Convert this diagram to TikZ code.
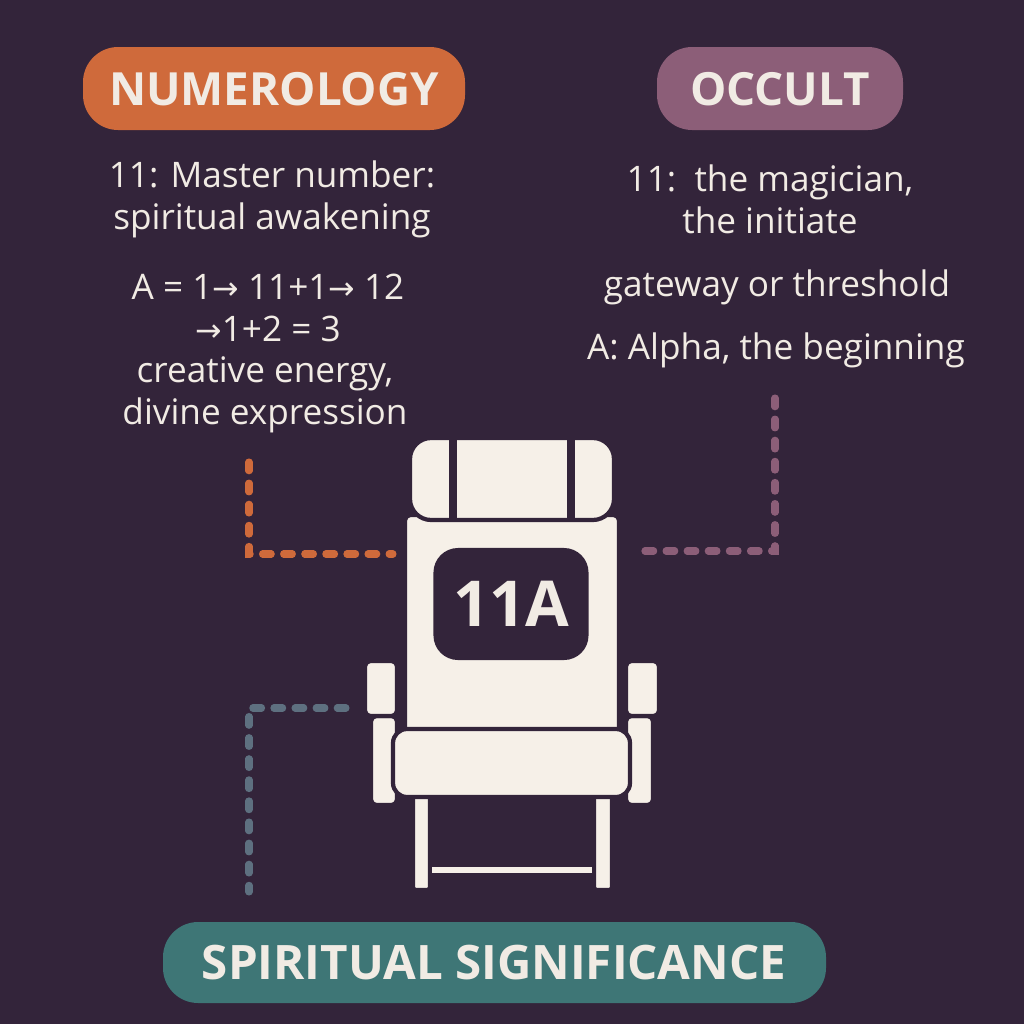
\documentclass[tikz,border=0pt]{standalone}
\usepackage{fontspec}
\setmainfont{Open Sans}
\newfontfamily\symfont{DejaVu Sans}
\usetikzlibrary{positioning}
\definecolor{bgpurple}{HTML}{33243A}
\definecolor{numorange}{HTML}{CF6A3B}
\definecolor{occmauve}{HTML}{8C5E78}
\definecolor{spirteal}{HTML}{3E7676}
\definecolor{seatcream}{HTML}{F6F0E8}
\definecolor{txtcream}{HTML}{F1EBE4}
\definecolor{dotblue}{HTML}{5E7080}
\newcommand{\arr}{{\symfont\fontsize{9}{12}\selectfont →}}

\begin{document}
\begin{tikzpicture}[x=0.01cm, y=-0.01cm,
    heading/.style={text=txtcream, font=\fontsize{13}{15}\selectfont\bfseries},
    info/.style={text=txtcream, font=\fontsize{10}{12}\selectfont, align=center},
    seatpart/.style={fill=seatcream, draw=bgpurple, line width=1.2pt, rounded corners=1.5pt},
    link/.style={line width=2pt, dash pattern=on 2.5pt off 3.5pt, line cap=round}]
            % Background
            \fill[bgpurple] (0,0) rectangle (1024,1024);
            \useasboundingbox (0,0) rectangle (1024,1024);

            % Headings
            \fill[numorange, rounded corners=10pt] (83,47) rectangle (465,130);
            \node[heading] (numerology) at (274,89) {NUMEROLOGY};
            \fill[occmauve, rounded corners=10pt] (657,47) rectangle (903,130);
            \node[heading] (occult) at (780,89) {OCCULT};
            \fill[spirteal, rounded corners=10pt] (163,922) rectangle (826,1003);
            \node[heading, font=\fontsize{13.5}{15}\selectfont\bfseries] (spiritual) at (494,963) {SPIRITUAL SIGNIFICANCE};

            % Numerology notes
            \node[info] (master) at (272,199) {11: Master number:\\spiritual awakening};
            \node[info] (sum) at (268,308) {A = 1\arr\ 11+1\arr\ 12\\\arr1+2 = 3};
            \node[info] (energy) at (265,395) {creative energy,\\divine expression};

            % Occult notes
            \node[info] (magician) at (770,199) {11:\ \ the magician,\\the initiate};
            \node[info] (gateway) at (777,287) {gateway or threshold};
            \node[info] (alpha) at (776,350) {A: Alpha, the beginning};

            % Seat
            \draw[seatpart, rounded corners=0.8pt] (413,795) rectangle (430,890); % legs
            \draw[seatpart, rounded corners=0.8pt] (594,795) rectangle (612,890);
            \draw[seatpart, rounded corners=0pt] (430,865) rectangle (594,875);
            \draw[seatpart] (371,716) rectangle (397,805); % arm supports
            \draw[seatpart] (626,716) rectangle (653,805);
            \draw[seatpart] (365,661) rectangle (397,716); % armrests
            \draw[seatpart] (626,661) rectangle (659,716);
            \draw[seatpart] (405,515) rectangle (619,735); % backrest
            \draw[seatpart, rounded corners=6pt] (410,438) rectangle (614,520); % headrest
            \draw[bgpurple, line width=2pt] (453,438) -- (453,520);
            \draw[bgpurple, line width=2pt] (571,438) -- (571,520);
            \draw[seatpart, rounded corners=4pt] (393,729) rectangle (630,797); % cushion
            \node[fill=bgpurple, rounded corners=7pt, minimum width=1.55cm, minimum height=1.12cm, text=txtcream, font=\fontsize{18}{20}\selectfont\bfseries] (seatno) at (511,604) {11A};

            % Dotted links
            \coordinate (numtop) at (249,462);
            \coordinate (numend) at (393,554);
            \coordinate (occtop) at (775,398);
            \coordinate (occend) at (634,551);
            \coordinate (spirtop) at (346,708);
            \coordinate (spirend) at (249,892);
            \draw[link, numorange] (numtop) |- (numend);
            \draw[link, occmauve] (occtop) |- (occend);
            \draw[link, dotblue] (spirtop) -| (spirend);
        \end{tikzpicture}
\end{document}
